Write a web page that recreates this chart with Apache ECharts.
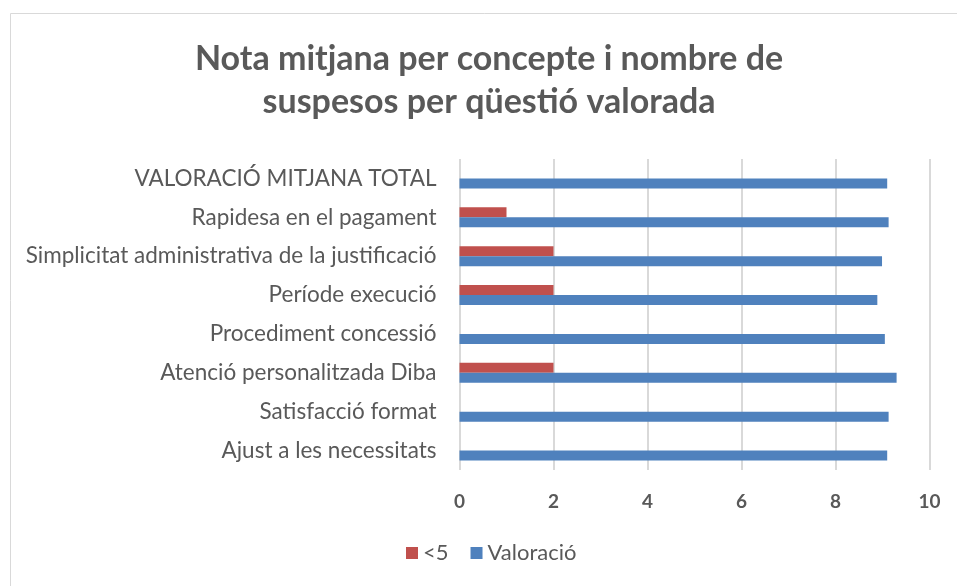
<!DOCTYPE html>
<html>
<head>
<meta charset="utf-8">
<script src="https://cdn.jsdelivr.net/npm/echarts@6/dist/echarts.min.js"></script>
<style>html,body{margin:0;padding:0;background:#fff;}#c{width:957px;height:586px;}</style>
</head>
<body>
<div id="c"></div>
<script>
var categories = ['Ajust a les necessitats','Satisfacció format','Atenció personalitzada Diba','Procediment concessió','Període execució','Simplicitat administrativa de la justificació','Rapidesa en el pagament','VALORACIÓ MITJANA TOTAL'];
var suspesos = [0, 0, 2, 0, 2, 2, 1, 0];
var valoracio = [9.10, 9.13, 9.30, 9.05, 8.89, 8.99, 9.13, 9.10];
var xTicks = [0, 2, 4, 6, 8, 10];
var titleText = 'Nota mitjana per concepte i nombre de\nsuspesos per qüestió valorada';

var chart = echarts.init(document.getElementById('c'));
chart.setOption({
  animation: false,
  textStyle: {fontFamily: 'Lato'},
  graphic: [
    {type:'rect', shape:{x:10.5,y:13.5,width:980,height:620}, style:{fill:'none', stroke:'#d9d9d9', lineWidth:1}},
    {type:'text', x: 489, y: 38, style:{text: titleText, textAlign:'center', textVerticalAlign:'top', fontFamily:'Lato', fontSize: 34, fontWeight:'bold', fill:'#595959', lineHeight: 43}}
  ],
  legend: {
    top: 542, left: 406, padding: 0,
    icon: 'rect', itemWidth: 12, itemHeight: 12, itemGap: 22,
    textStyle: {fontFamily:'Lato', fontSize: 22, color: '#595959'},
    data: ['<5', 'Valoració']
  },
  grid: {left: 459.5, right: 27.5, top: 159, bottom: 116, containLabel: false},
  xAxis: {
    type: 'value', min: xTicks[0], max: xTicks[xTicks.length-1], interval: 2,
    axisLine: {show: false}, axisTick: {show: false},
    splitLine: {lineStyle: {color: '#d9d9d9', width: 2}},
    axisLabel: {margin: 22, fontFamily:'Lato', fontSize: 19, fontWeight: 'bold', color: '#595959'}
  },
  yAxis: {
    type: 'category', data: categories,
    axisLine: {show: false}, axisTick: {show: false},
    axisLabel: {margin: 23, fontFamily:'Lato', fontSize: 22.5, color: '#595959'}
  },
  series: [
    {name: '<5', type: 'bar', data: suspesos, barWidth: 10, barGap: '0%', itemStyle: {color: '#c0504d'}},
    {name: 'Valoració', type: 'bar', data: valoracio, barWidth: 10, barGap: '0%', itemStyle: {color: '#4f81bd'}}
  ]
});
</script>
</body>
</html>
